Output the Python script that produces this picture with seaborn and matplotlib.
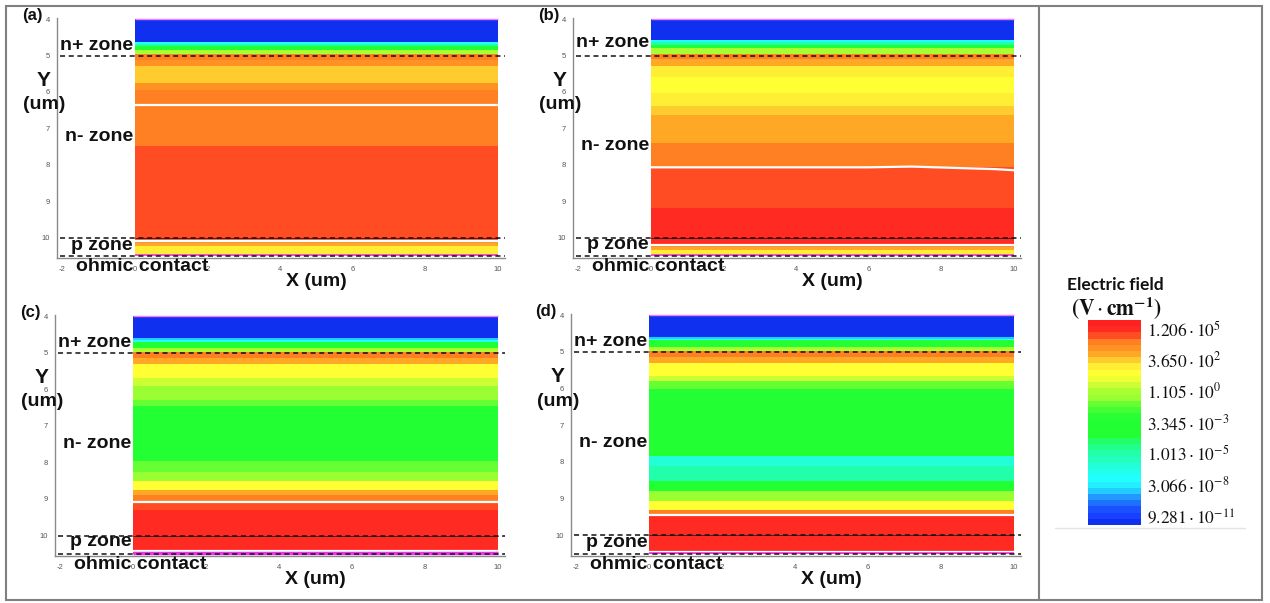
import numpy as np
import pandas as pd
import matplotlib
matplotlib.use('Agg')
import matplotlib.pyplot as plt
import seaborn as sns
from matplotlib.colors import ListedColormap, BoundaryNorm
from matplotlib.cm import ScalarMappable
from matplotlib.patches import Rectangle
from matplotlib.lines import Line2D

# ---- colour scale: log10(E / V cm^-1), 33 discrete bands, bottom to top ----
scale_min, scale_max = -10.84, 5.73
band_colors = ['#1030f0', '#1a40ff', '#1a50ff', '#1e70ff', '#2299ff', '#22ccff',
               '#22f0ff', '#22ffff', '#22ffee', '#22ffd8', '#22ffc0', '#22ffaa',
               '#22ff88', '#22ff66', '#22ff33', '#22ff33', '#22ff33', '#2aff33',
               '#44ff33', '#66ff33', '#99ff33', '#aaff33', '#ccff33', '#eeff33',
               '#ffff33', '#ffee33', '#ffcc30', '#ffa826', '#ff9222', '#ff8022',
               '#ff4c22', '#ff2a22', '#ff2020']
cbar_ticks = [5.0813, 2.5623, 0.0434, -2.4756, -4.9944, -7.5134, -10.0324]
cbar_labels = [r'$1.206\cdot10^{5}$', r'$3.650\cdot10^{2}$', r'$1.105\cdot10^{0}$',
               r'$3.345\cdot10^{-3}$', r'$1.013\cdot10^{-5}$', r'$3.066\cdot10^{-8}$',
               r'$9.281\cdot10^{-11}$']

# ---- field profiles along Y (um); bands are uniform in X ----
a_edges = [4.00, 4.62, 4.68, 4.75, 4.84, 4.95, 5.12, 5.30, 5.75, 5.95, 6.37, 7.49,
           10.08, 10.16, 10.24, 10.50]
a_logE = [-10.59, -7.07, -5.06, -2.5, -0.04, 3.97, 3.47, 2.47, 3.47, 3.97, 3.97, 4.48,
          3.97, 2.97, 1.97]

b_edges = [4.00, 4.58, 4.64, 4.70, 4.80, 4.95, 5.10, 5.30, 5.60, 6.03, 6.40, 6.63,
           7.40, 8.07, 9.18, 10.19, 10.27, 10.35, 10.50]
b_logE = [-10.59, -7.07, -5.06, -2.5, -0.04, 3.97, 2.97, 1.97, 1.47, 1.97, 2.47, 2.97,
          3.97, 4.48, 4.98, 3.97, 2.97, 1.97]

c_edges = [4.00, 4.61, 4.66, 4.70, 4.88, 4.98, 5.15, 5.30, 5.70, 5.90, 6.30, 6.45,
           7.95, 8.25, 8.50, 8.75, 8.90, 9.09, 9.30, 10.50]
c_logE = [-10.59, -8.07, -7.07, -2.5, -0.04, 3.97, 2.97, 1.47, 0.46, -0.54, -1.04, -2.5,
          -1.04, -0.54, 1.47, 2.97, 3.97, 4.48, 4.98]

d_edges = [4.00, 4.60, 4.65, 4.69, 4.86, 4.97, 5.13, 5.30, 5.65, 5.80, 6.00, 7.83,
           8.10, 8.52, 8.78, 9.05, 9.30, 9.43, 10.50]
d_logE = [-10.59, -8.07, -7.07, -2.5, -0.04, 3.97, 2.97, 1.47, 0.46, -1.04, -2.5, -6.06,
          -5.06, -2.5, -0.54, 1.47, 3.97, 4.98]

# white contour lines (y, um)
a_white = [6.37, 10.08]
b_white = [10.19]
b_slant_x = [0, 6, 7.2, 8.5, 9.5, 10]
b_slant_y = [8.07, 8.07, 8.05, 8.09, 8.12, 8.15]
c_white = [9.09, 10.43]
d_white = [9.45, 10.45]

zone_lines = [5.0, 10.0, 10.5]
x_ticks = [-2, 0, 2, 4, 6, 8, 10]
y_ticks = [4, 5, 6, 7, 8, 9, 10]

sns.set_style('white')
plt.rcParams['font.family'] = ['Liberation Sans', 'DejaVu Sans']
plt.rcParams['mathtext.fontset'] = 'stix'
plt.rcParams['axes.unicode_minus'] = False

cmap = ListedColormap(band_colors)
levels = np.linspace(scale_min, scale_max, len(band_colors) + 1)
norm = BoundaryNorm(levels, cmap.N)

W, H = 1270, 603
fig = plt.figure(figsize=(W / 100, H / 100), dpi=100)


def px_axes(left, top, right, bottom):
    return fig.add_axes([left / W, 1 - bottom / H, (right - left) / W, (bottom - top) / H])


panels = [
    dict(tag='(a)', box=(57, 18, 505, 258), edges=a_edges, logE=a_logE, white=a_white,
         nminus=7.22, nplus=4.72, pz=10.23, mag=1.2),
    dict(tag='(b)', box=(573, 18, 1021, 258), edges=b_edges, logE=b_logE, white=b_white,
         nminus=7.47, nplus=4.64, pz=10.2, mag=1.2),
    dict(tag='(c)', box=(55, 315, 505, 556), edges=c_edges, logE=c_logE, white=c_white,
         nminus=7.48, nplus=4.72, pz=10.17, mag=2.5),
    dict(tag='(d)', box=(571, 314, 1021, 556), edges=d_edges, logE=d_logE, white=d_white,
         nminus=7.47, nplus=4.71, pz=10.19, mag=1.2),
]

bold = dict(fontweight='bold', color='#111111', clip_on=False)

for p in panels:
    ax = px_axes(*p['box'])
    z = pd.DataFrame({'logE': p['logE']})
    ax.pcolormesh([0, 10], p['edges'], z[['logE']].to_numpy(), cmap=cmap, norm=norm,
                  shading='flat', zorder=1)
    ax.hlines(p['white'], 0, 10, colors='white', lw=1.6, zorder=2)
    if p['tag'] == '(b)':
        ax.plot(b_slant_x, b_slant_y, color='white', lw=1.6, zorder=2)
    ax.hlines([4.0], 0, 10, colors='#ff77ff', lw=1.0, zorder=2)
    ax.hlines([10.49], 0, 10, colors='#ee33ee', lw=p['mag'], zorder=2)
    ax.hlines([10.0], 0, 10, colors='#222222', lw=0.6, zorder=3)
    ax.hlines(zone_lines, -2.05, 10.2, colors='#111111', lw=1.1,
              linestyles=(0, (3.3, 2.4)), zorder=4, clip_on=False)

    ax.set_xlim(-2.14, 10.2)
    ax.set_ylim(10.56, 3.97)
    ax.set_xticks(x_ticks)
    ax.set_yticks(y_ticks)
    ax.tick_params(axis='both', labelsize=5.5, labelcolor='#555555', color='#888888',
                   length=3, width=0.8, direction='out', pad=2)
    ax.tick_params(axis='x', pad=3)
    sns.despine(ax=ax)
    for s in ('left', 'bottom'):
        ax.spines[s].set_color('#8a8a8a')
        ax.spines[s].set_linewidth(1.0)
    ax.grid(False)

    ax.text(-2.82, 3.9, p['tag'], fontsize=12, ha='center', va='center', **bold)
    ax.text(-0.05, p['nplus'], 'n+ zone', fontsize=14, ha='right', va='center', **bold)
    ax.text(-2.5, 5.68, 'Y', fontsize=15, ha='center', va='center', **bold)
    ax.text(-2.5, 6.34, '(um)', fontsize=14, ha='center', va='center', **bold)
    ax.text(-0.05, p['nminus'], 'n- zone', fontsize=14, ha='right', va='center', **bold)
    ax.text(-0.05, p['pz'], 'p zone', fontsize=14, ha='right', va='center', **bold)
    ax.text(-1.62, 10.8, 'ohmic contact', fontsize=14, ha='left', va='center', **bold)
    ax.text(5.0, 11.2, 'X (um)', fontsize=14, ha='center', va='center', **bold)

# ---- colour bar ----
cax = px_axes(1088, 320, 1141, 525)
cb = fig.colorbar(ScalarMappable(norm=norm, cmap=cmap), cax=cax, ticks=cbar_ticks)
cb.set_ticklabels(cbar_labels)
cb.minorticks_off()
cb.outline.set_visible(False)
cax.tick_params(which='both', length=0, pad=4, labelsize=12.5, labelcolor='#111111')
fig.text(1115 / W, 1 - 285 / H, 'Electric field', fontsize=12.5, fontweight='bold',
         family=['Lato', 'Liberation Sans'], ha='center', va='center', color='#111111')
fig.text(1116 / W, 1 - 308 / H,
         r'$\mathbf{(V}\cdot\mathbf{cm}^{\mathbf{-1}}\mathbf{)}$', fontsize=15.5,
         ha='center', va='center', color='#111111')
fig.add_artist(Line2D([1055 / W, 1245 / W], [1 - 528 / H] * 2, color='#e4e4e4', lw=1))

# ---- outer frame ----
fig.add_artist(Rectangle((6 / W, 1 - 600 / H), (1262 - 6) / W, (600 - 6) / H,
                         transform=fig.transFigure, fill=False, ec='#808080', lw=1.5))
fig.add_artist(Line2D([1039 / W] * 2, [1 - 600 / H, 1 - 6 / H], color='#808080', lw=1.5))

fig.savefig('out.png', dpi=100)
